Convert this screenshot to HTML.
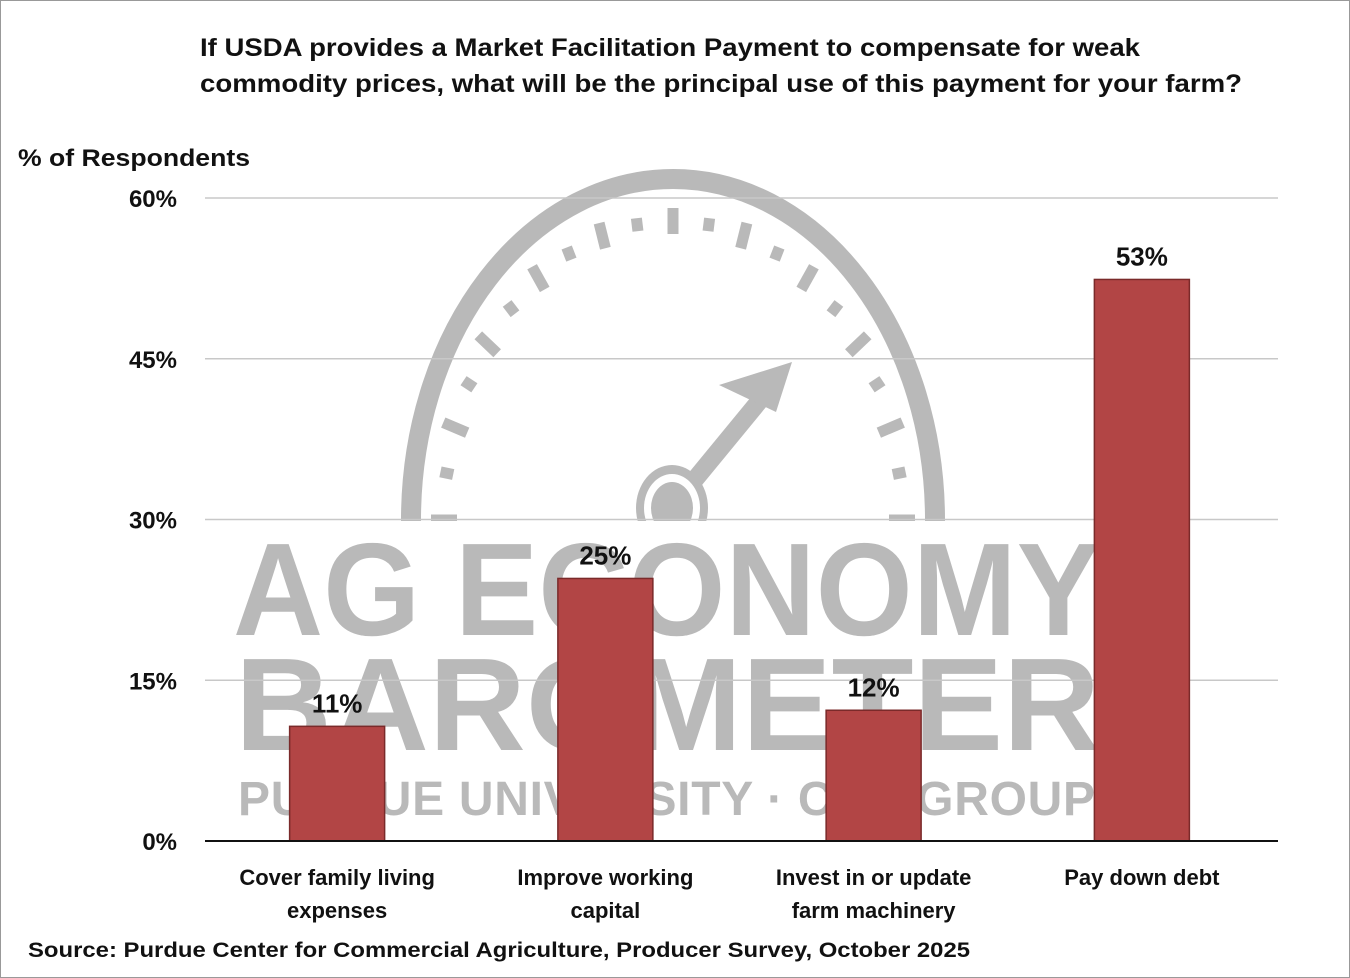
<!DOCTYPE html>
<html><head><meta charset="utf-8"><style>
html,body{margin:0;padding:0;background:#fff}
svg{display:block}
text{font-family:"Liberation Sans",sans-serif;font-weight:bold;fill:#111}
</style></head><body>
<svg id="chart" width="1350" height="978" viewBox="0 0 1350 978" xmlns="http://www.w3.org/2000/svg">
<defs><clipPath id="gclip"><rect x="0" y="0" width="1350" height="521"/></clipPath></defs>
<rect x="0.5" y="0.5" width="1349" height="977" fill="#fff" stroke="#999"/>
<text x="200" y="56" font-size="25" textLength="940" lengthAdjust="spacingAndGlyphs">If USDA provides a Market Facilitation Payment to compensate for weak</text>
<text x="200" y="92" font-size="25" textLength="1042" lengthAdjust="spacingAndGlyphs">commodity prices, what will be the principal use of this payment for your farm?</text>
<text x="18" y="166" font-size="24" textLength="232" lengthAdjust="spacingAndGlyphs">% of Respondents</text>
<g id="watermark" fill="#b9b9b9" stroke="none">
 <g clip-path="url(#gclip)">
  <ellipse cx="673" cy="520" rx="262" ry="341" fill="none" stroke="#b9b9b9" stroke-width="20"/>
  <g id="ticks"></g>
  <line x1="600" y1="595" x2="770" y2="388" stroke="#b9b9b9" stroke-width="18"/>
  <polygon points="792,362 719,385 776,412"/>
  <ellipse cx="672" cy="508" rx="36" ry="43"/>
  <ellipse cx="672" cy="508" rx="28" ry="34" fill="#fff"/>
  <ellipse cx="672" cy="508" rx="21" ry="26"/>
 </g>
  <text x="233" y="635" font-size="132" textLength="867" lengthAdjust="spacingAndGlyphs" style="fill:#b9b9b9">AG ECONOMY</text>
  <text x="235" y="750" font-size="132" textLength="865" lengthAdjust="spacingAndGlyphs" style="fill:#b9b9b9">BAROMETER</text>
  <text x="238" y="815" font-size="48" textLength="857" lengthAdjust="spacing" style="fill:#b9b9b9">PURDUE UNIVERSITY · CCA GROUP</text>
</g>
<g id="grid"></g>
<g id="bars"></g>
<g id="labels"></g>
<g id="ylabels"></g>
<g id="xlabels"></g>
<line x1="205" y1="841" x2="1278" y2="841" stroke="#111" stroke-width="2"/>
<text x="28" y="957" font-size="21" textLength="942" lengthAdjust="spacingAndGlyphs">Source: Purdue Center for Commercial Agriculture, Producer Survey, October 2025</text>
</svg>
<script>
const categories = [["Cover family living","expenses"],["Improve working","capital"],["Invest in or update","farm machinery"],["Pay down debt"]];
const values = [10.7, 24.5, 12.2, 52.4];
const valueLabels = ["11%","25%","12%","53%"];
const yTicks = [0, 15, 30, 45, 60];
const yTickLabels = ["0%","15%","30%","45%","60%"];

const NS = "http://www.w3.org/2000/svg";
const plotL = 205, plotR = 1278, y0 = 841, y60 = 198;
function y(v){ return y0 - (v/60)*(y0-y60); }
const band = (plotR-plotL)/categories.length;
function xc(i){ return plotL + band*(i+0.5) - 2; }
const bw = 95;
function mk(tag, attrs, parent){ const e=document.createElementNS(NS,tag); for(const k in attrs) e.setAttribute(k,attrs[k]); parent.appendChild(e); return e; }

const grid = document.getElementById('grid'), yl = document.getElementById('ylabels');
yTicks.forEach((t,i)=>{
  if(t>0){ const l = mk('line',{x1:plotL,x2:plotR,y1:y(t),y2:y(t),stroke:'#c8c8c8','stroke-width':1.5},grid);
    
     }
  const tx = mk('text',{x:177,y:y(t)+9,'font-size':24,'text-anchor':'end'},yl);
  tx.textContent = yTickLabels[i];
  
  
});

const tg = document.getElementById('ticks');
for(let k=-1;k<=21;k++){
  const a = (180 - k*9)*Math.PI/180;
  const long = (k%2===0);
  const len = long?26:13, w=11;
  const cx = 673 + 229*Math.cos(a), cy = 520 - 299*Math.sin(a);
  const ang = Math.atan2(-299*Math.sin(a), 229*Math.cos(a))*180/Math.PI;
  const r = mk('rect',{x:-len/2,y:-w/2,width:len,height:w,transform:`translate(${cx},${cy}) rotate(${ang})`},tg);
  
  
}

const bg = document.getElementById('bars'), lg = document.getElementById('labels'), xg = document.getElementById('xlabels');
values.forEach((v,i)=>{
  const r = mk('rect',{x:xc(i)-bw/2,y:y(v),width:bw,height:y0-y(v),fill:'#b24545',stroke:'#7a2a2a','stroke-width':1.5},bg);
  
  
  const t = mk('text',{x:xc(i),y:y(v)-14,'font-size':26,'text-anchor':'middle'},lg);
  t.textContent = valueLabels[i];
  
  
  categories[i].forEach((line,j)=>{
    const c = mk('text',{x:xc(i),y:885+j*33,'font-size':22,'text-anchor':'middle'},xg);
    c.textContent = line;
    
    
  });
});
</script>
</body></html>
